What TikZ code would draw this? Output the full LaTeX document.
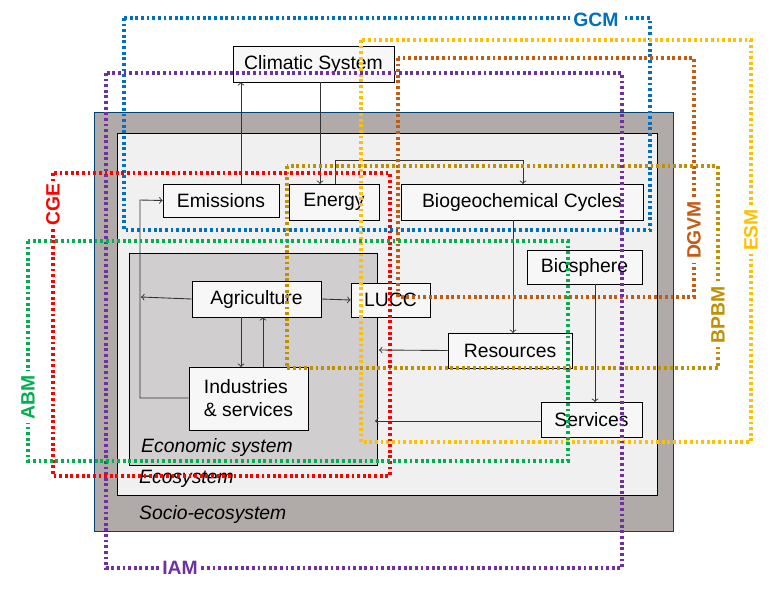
\documentclass[tikz,border=0pt]{standalone}
\usepackage{fontspec}
\setmainfont{Liberation Sans}
\usetikzlibrary{arrows}
\definecolor{socio}{RGB}{176,171,169}
\definecolor{eco}{RGB}{240,240,240}
\definecolor{econ}{RGB}{208,206,206}
\definecolor{gcm}{RGB}{0,112,192}
\definecolor{esm}{RGB}{255,192,0}
\definecolor{dgvm}{RGB}{197,90,17}
\definecolor{bpbm}{RGB}{191,144,0}
\definecolor{iam}{RGB}{112,48,160}
\definecolor{cge}{RGB}{255,0,0}
\definecolor{abm}{RGB}{0,176,80}
\begin{document}
\begin{tikzpicture}[x=0.02cm,y=-0.02cm,
  box/.style={draw=black,fill=white!97!black,rectangle,inner sep=0pt,font=\fontsize{11}{13}\selectfont},
  arr/.style={->,>=to,draw=black!80,line width=0.5pt},
  model/.style={line width=2.2pt,dash pattern=on 1.6pt off 1.6pt},
  mlabel/.style={fill=white,font=\bfseries\fontsize{11}{13}\selectfont,inner sep=2pt},
  ital/.style={anchor=west,font=\itshape\fontsize{11}{13}\selectfont}]
\useasboundingbox (0,0) rectangle (778,596);
% nested systems
\draw[fill=socio,draw=gcm!60!black] (94,112) rectangle (673,531);
\draw[fill=eco] (117,133) rectangle (657,495);
\draw[fill=econ] (129,253) rectangle (377,465);
\node[ital] (se) at (133,514) {Socio-ecosystem};
\node[ital] (es) at (133,479) {Ecosystem};
\node[ital] (ec) at (135,447) {Economic system};
% components
\node[box,minimum width=161*0.02cm,minimum height=36*0.02cm] (clim) at (313.5,64) {Climatic System};
\node[box,minimum width=116*0.02cm,minimum height=33*0.02cm] (emi) at (221,200.5) {Emissions};
\node[box,minimum width=90*0.02cm,minimum height=36*0.02cm] (ene) at (334,202) {Energy};
\node[box,minimum width=242*0.02cm,minimum height=36*0.02cm] (bio) at (522,202) {Biogeochemical Cycles};
\node[box,minimum width=115*0.02cm,minimum height=34*0.02cm] (bsp) at (584.5,267) {Biosphere};
\node[box,minimum width=129*0.02cm,minimum height=36*0.02cm] (agr) at (256.5,299) {Agriculture};
\node[box,minimum width=79*0.02cm,minimum height=34*0.02cm] (lucc) at (390.5,300) {LUCC};
\node[box,minimum width=124*0.02cm,minimum height=35*0.02cm] (res) at (510,350.5) {Resources};
\node[box,minimum width=119*0.02cm,minimum height=63*0.02cm,align=left] (ind) at (248.5,398.5) {Industries\\\& services};
\node[box,minimum width=101*0.02cm,minimum height=35*0.02cm] (ser) at (591.5,419.5) {Services};
\coordinate (k1) at (140,398);
\coordinate (k2) at (140,200);
\coordinate (e1) at (335,160);
\coordinate (e2) at (523,160);
\coordinate (r1) at (379,350);
\coordinate (s1) at (375,421);
% connectors
\draw[arr] (241,184) -- (241,82);
\draw[arr] (320,82) -- (320,184);
\draw[arr] (335,184) -- (e1) -- (e2) -- (523,184);
\draw[arr] (513,220) -- (513,333);
\draw[arr] (595,284) -- (595,402);
\draw[arr] (res.west) -- (r1);
\draw[arr] (ser.west |- s1) -- (s1);
\draw[arr] (agr.west) -- (141,297);
\draw[arr] (agr.east) -- (lucc.west);
\draw[arr] (241,317) -- (241,367);
\draw[arr] (263,367) -- (263,317);
\draw[arr] (ind.west |- k1) -- (k1) -- (k2) -- (emi.west);
% models
\draw[model,gcm] (124,18) rectangle (650,230);
\draw[model,esm] (361,40) rectangle (751,442);
\draw[model,dgvm] (398,58) rectangle (694,297);
\draw[model,bpbm] (287,166) rectangle (718,368);
\draw[model,iam] (106,73) rectangle (622,568);
\draw[model,cge] (53,173) rectangle (390,476);
\draw[model,abm] (28,241) rectangle (568,461);
\node[mlabel,text=gcm] (lgcm) at (596,20) {GCM};
\node[mlabel,text=esm,rotate=90] (lesm) at (751,230) {ESM};
\node[mlabel,text=dgvm,rotate=90] (ldgvm) at (694,230) {DGVM};
\node[mlabel,text=bpbm,rotate=90] (lbpbm) at (718,315) {BPBM};
\node[mlabel,text=iam] (liam) at (180,568) {IAM};
\node[mlabel,text=cge,rotate=90] (lcge) at (53,205) {CGE};
\node[mlabel,text=abm,rotate=90] (labm) at (28,397) {ABM};
\end{tikzpicture}
\end{document}
